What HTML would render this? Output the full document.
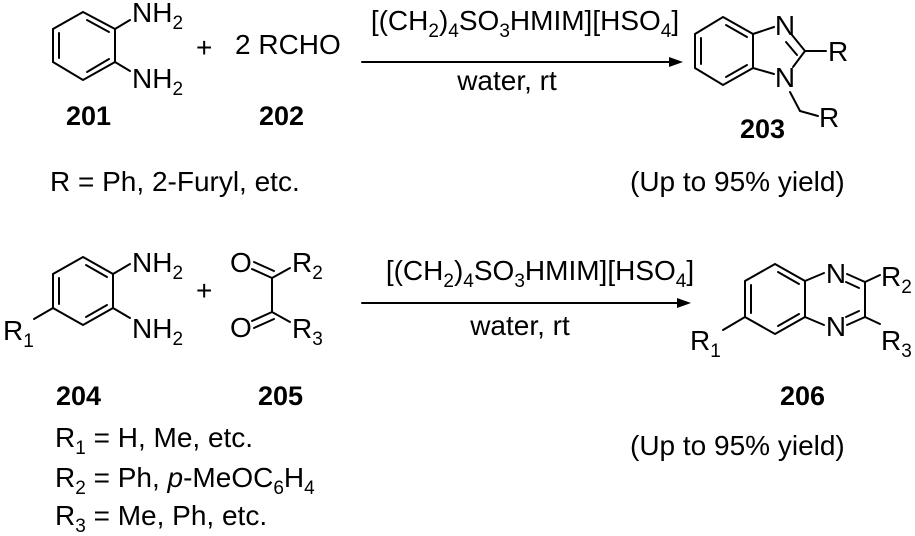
<!DOCTYPE html>
<html><head><meta charset="utf-8"><style>
html,body{margin:0;padding:0;background:#fff}
svg{display:block}
text{font-family:"Liberation Sans",Arial,sans-serif;font-size:28px;fill:#000}
.b{font-weight:bold;font-size:27px}
</style></head><body>
<svg width="915" height="536" viewBox="0 0 915 536" xmlns="http://www.w3.org/2000/svg">
<g stroke="#000" stroke-width="2" fill="none" stroke-linecap="round">
<polygon points="83,12 115,29 115,62 83,80 53,62 53,29"/>
<line x1="59" y1="33" x2="59" y2="58"/>
<line x1="87" y1="20" x2="109" y2="32"/>
<line x1="87" y1="72" x2="109" y2="59"/>
<line x1="115" y1="29" x2="130" y2="20"/>
<line x1="115" y1="62" x2="130" y2="71"/>
<line x1="362" y1="62" x2="672" y2="62"/>
<polygon points="723,17 753,34 753,68 723,85 695,68 695,34"/>
<line x1="701" y1="38" x2="701" y2="64"/>
<line x1="726" y1="25" x2="747" y2="37"/>
<line x1="726" y1="77" x2="747" y2="65"/>
<line x1="753" y1="34" x2="774" y2="27"/>
<line x1="753" y1="68" x2="774" y2="74"/>
<line x1="792" y1="35" x2="805" y2="51"/>
<line x1="786" y1="42" x2="797" y2="55"/>
<line x1="805" y1="51" x2="793" y2="67"/>
<line x1="805" y1="51" x2="826" y2="51"/>
<line x1="790" y1="92" x2="800" y2="111"/>
<line x1="800" y1="111" x2="818" y2="116"/>
<polygon points="83,257 113,274 113,308 83,325 53,308 53,274"/>
<line x1="59" y1="278" x2="59" y2="304"/>
<line x1="86" y1="265" x2="107" y2="277"/>
<line x1="86" y1="317" x2="107" y2="305"/>
<line x1="113" y1="274" x2="130" y2="264"/>
<line x1="113" y1="308" x2="130" y2="318"/>
<line x1="53" y1="308" x2="34" y2="319"/>
<line x1="252" y1="269" x2="272" y2="278"/>
<line x1="254" y1="262" x2="274" y2="271"/>
<line x1="272" y1="278" x2="272" y2="312"/>
<line x1="272" y1="278" x2="290" y2="268"/>
<line x1="252" y1="321" x2="272" y2="312"/>
<line x1="254" y1="328" x2="274" y2="319"/>
<line x1="272" y1="312" x2="290" y2="322"/>
<line x1="362" y1="303" x2="680" y2="303"/>
<polygon points="775,264 805,281 805,317 775,334 745,317 745,281"/>
<line x1="751" y1="285" x2="751" y2="313"/>
<line x1="778" y1="272" x2="799" y2="284"/>
<line x1="778" y1="326" x2="799" y2="314"/>
<line x1="805" y1="281" x2="824" y2="273"/>
<line x1="805" y1="317" x2="824" y2="325"/>
<line x1="847" y1="274" x2="865" y2="282"/>
<line x1="846" y1="282" x2="859" y2="288"/>
<line x1="865" y1="282" x2="865" y2="317"/>
<line x1="847" y1="325" x2="865" y2="317"/>
<line x1="846" y1="317" x2="859" y2="311"/>
<line x1="865" y1="282" x2="880" y2="275"/>
<line x1="865" y1="317" x2="880" y2="324"/>
<line x1="745" y1="317" x2="723" y2="330"/>
</g>
<polygon points="683,62 669,57 669,67" fill="#000"/>
<polygon points="691,303 677,298 677,308" fill="#000"/>

<text x="132" y="22">NH<tspan font-size="19" dy="7">2</tspan></text>
<text x="132" y="88">NH<tspan font-size="19" dy="7">2</tspan></text>
<text x="196" y="57" font-size="20">+</text>
<text x="235" y="54">2 RCHO</text>
<text class="b" x="66" y="125">201</text>
<text class="b" x="259" y="125">202</text>
<text x="525" y="30" text-anchor="middle">[(CH<tspan font-size="19" dy="7">2</tspan><tspan dy="-7">)</tspan><tspan font-size="19" dy="7">4</tspan><tspan dy="-7">SO</tspan><tspan font-size="19" dy="7">3</tspan><tspan dy="-7">HMIM][HSO</tspan><tspan font-size="19" dy="7">4</tspan><tspan dy="-7">]</tspan></text>
<text x="507" y="90" text-anchor="middle">water, rt</text>
<text x="785" y="35" text-anchor="middle">N</text>
<text x="785" y="87" text-anchor="middle">N</text>
<text x="828" y="61">R</text>
<text x="819" y="127">R</text>
<text class="b" x="740" y="138">203</text>
<text x="50" y="191">R = Ph, 2-Furyl, etc.</text>
<text x="630" y="191">(Up to 95% yield)</text>

<text x="132" y="272">NH<tspan font-size="19" dy="7">2</tspan></text>
<text x="132" y="338">NH<tspan font-size="19" dy="7">2</tspan></text>
<text x="3" y="340">R<tspan font-size="19" dy="7">1</tspan></text>
<text x="196" y="300" font-size="20">+</text>
<text x="230" y="272">O</text>
<text x="230" y="337">O</text>
<text x="292" y="272">R<tspan font-size="19" dy="7">2</tspan></text>
<text x="292" y="338">R<tspan font-size="19" dy="7">3</tspan></text>
<text x="540" y="280" text-anchor="middle">[(CH<tspan font-size="19" dy="7">2</tspan><tspan dy="-7">)</tspan><tspan font-size="19" dy="7">4</tspan><tspan dy="-7">SO</tspan><tspan font-size="19" dy="7">3</tspan><tspan dy="-7">HMIM][HSO</tspan><tspan font-size="19" dy="7">4</tspan><tspan dy="-7">]</tspan></text>
<text x="520" y="335" text-anchor="middle">water, rt</text>
<text x="836" y="283" text-anchor="middle">N</text>
<text x="836" y="336" text-anchor="middle">N</text>
<text x="881" y="286">R<tspan font-size="19" dy="7">2</tspan></text>
<text x="881" y="350">R<tspan font-size="19" dy="7">3</tspan></text>
<text x="690" y="350">R<tspan font-size="19" dy="7">1</tspan></text>
<text class="b" x="56" y="405">204</text>
<text class="b" x="258" y="405">205</text>
<text class="b" x="780" y="405">206</text>
<text x="55" y="447">R<tspan font-size="19" dy="7">1</tspan><tspan dy="-7"> = H, Me, etc.</tspan></text>
<text x="630" y="455">(Up to 95% yield)</text>
<text x="55" y="487">R<tspan font-size="19" dy="7">2</tspan><tspan dy="-7"> = Ph, </tspan><tspan font-style="italic">p</tspan>-MeOC<tspan font-size="19" dy="7">6</tspan><tspan dy="-7">H</tspan><tspan font-size="19" dy="7">4</tspan></text>
<text x="55" y="525">R<tspan font-size="19" dy="7">3</tspan><tspan dy="-7"> = Me, Ph, etc.</tspan></text>
</svg>
</body></html>
